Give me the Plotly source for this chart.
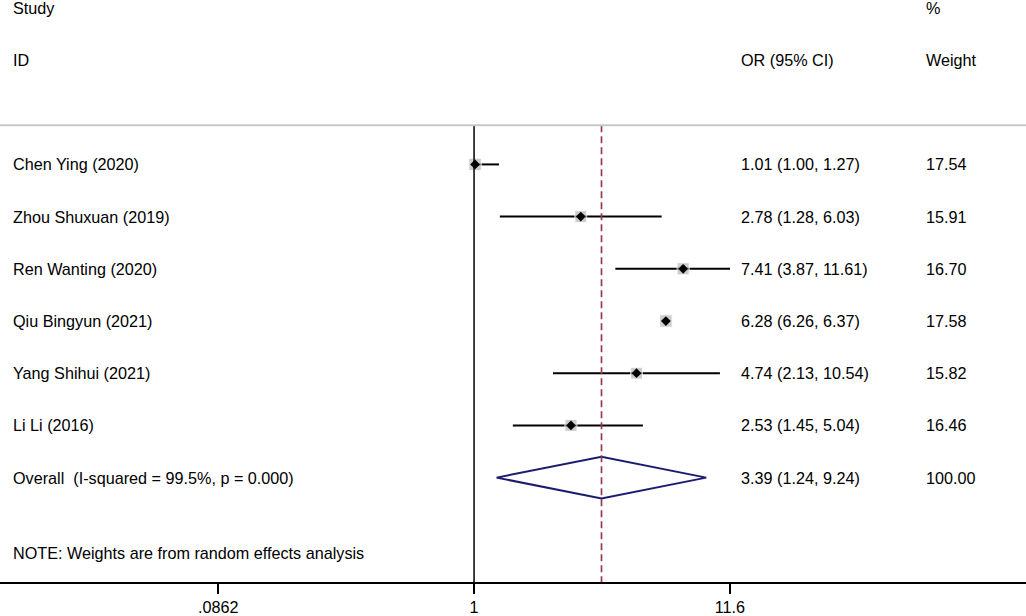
import plotly.graph_objects as go

# data
studies = ["Chen Ying (2020)", "Zhou Shuxuan (2019)", "Ren Wanting (2020)",
           "Qiu Bingyun (2021)", "Yang Shihui (2021)", "Li Li (2016)"]
or_est = [1.01, 2.78, 7.41, 6.28, 4.74, 2.53]
ci_low = [1.00, 1.28, 3.87, 6.26, 2.13, 1.45]
ci_high = [1.27, 6.03, 11.61, 6.37, 10.54, 5.04]
weights = [17.54, 15.91, 16.70, 17.58, 15.82, 16.46]

overall_label = "Overall  (I-squared = 99.5%, p = 0.000)"
overall = 3.39
overall_low = 1.24
overall_high = 9.24
overall_weight = 100.00

tick_vals = [0.0862, 1, 11.6]
tick_text = [".0862", "1", "11.6"]

W, H = 1026, 616
FONT = "Liberation Sans, Arial, sans-serif"
FS = 16.2
rows = list(range(len(studies)))
overall_row = len(studies)

fig = go.Figure()

# confidence interval lines
cx, cy = [], []
for r, lo, hi in zip(rows, ci_low, ci_high):
    cx += [lo, hi, None]
    cy += [r, r, None]
fig.add_trace(go.Scatter(x=cx, y=cy, mode="lines",
                         line=dict(color="black", width=2), hoverinfo="skip"))

# weight boxes
wmax = max(weights)
fig.add_trace(go.Scatter(x=or_est, y=rows, mode="markers",
                         marker=dict(symbol="square", color="#b8b8b8",
                                     size=[12.5 * (w / wmax) ** 0.5 for w in weights])))
# point estimates
fig.add_trace(go.Scatter(x=or_est, y=rows, mode="markers",
                         marker=dict(symbol="diamond", color="black", size=7.5)))

# overall diamond
h = 0.4
fig.add_trace(go.Scatter(
    x=[overall_low, overall, overall_high, overall, overall_low],
    y=[overall_row, overall_row - h, overall_row, overall_row + h, overall_row],
    mode="lines", line=dict(color="#1c1c6e", width=2)))

top_line = -0.75
bottom = 8
# null line and overall dashed line
fig.add_shape(type="line", xref="x", yref="y", x0=1, x1=1, y0=top_line, y1=bottom,
              line=dict(color="black", width=1.5))
fig.add_shape(type="line", xref="x", yref="y", x0=overall, x1=overall, y0=top_line, y1=bottom,
              line=dict(color="#9a3a4c", width=1.7, dash="7px,4px"))
# grey separator
fig.add_shape(type="line", xref="paper", yref="y", x0=0, x1=1, y0=top_line, y1=top_line,
              line=dict(color="#c8c8c8", width=2))

def txt(x_px, y, s):
    fig.add_annotation(x=x_px / W, y=y, xref="paper", yref="y", text=s,
                       showarrow=False, xanchor="left", yanchor="middle",
                       font=dict(family=FONT, size=FS, color="black"))

col_study, col_or, col_w = 11, 739, 924
txt(col_study, -3, "Study")
txt(col_study, -2, "ID")
txt(col_or, -2, "OR (95% CI)")
txt(col_w, -3, "%")
txt(col_w, -2, "Weight")

for r, s, e, lo, hi, w in zip(rows, studies, or_est, ci_low, ci_high, weights):
    txt(col_study, r, s)
    txt(col_or, r, f"{e:.2f} ({lo:.2f}, {hi:.2f})")
    txt(col_w, r, f"{w:.2f}")

txt(col_study, overall_row, overall_label)
txt(col_or, overall_row, f"{overall:.2f} ({overall_low:.2f}, {overall_high:.2f})")
txt(col_w, overall_row, f"{overall_weight:.2f}")
txt(col_study, 7.45, "NOTE: Weights are from random effects analysis")

fig.update_layout(
    width=W, height=H, showlegend=False,
    paper_bgcolor="white", plot_bgcolor="white",
    margin=dict(l=0, r=0, t=0, b=34),
    xaxis=dict(type="log", range=[-1.972, 2.296], showgrid=False, zeroline=False,
               showline=True, linecolor="black", linewidth=1.5,
               ticks="outside", ticklen=10, tickwidth=1.5, tickcolor="black",
               tickvals=tick_vals, ticktext=tick_text,
               tickfont=dict(family=FONT, size=FS, color="black")),
    yaxis=dict(range=[bottom, -3.15], visible=False, showgrid=False, zeroline=False),
)

fig.write_html("out.html", config={"displayModeBar": False},
               post_script="document.body.style.margin='0px';"
                           "document.body.style.overflow='hidden';")
